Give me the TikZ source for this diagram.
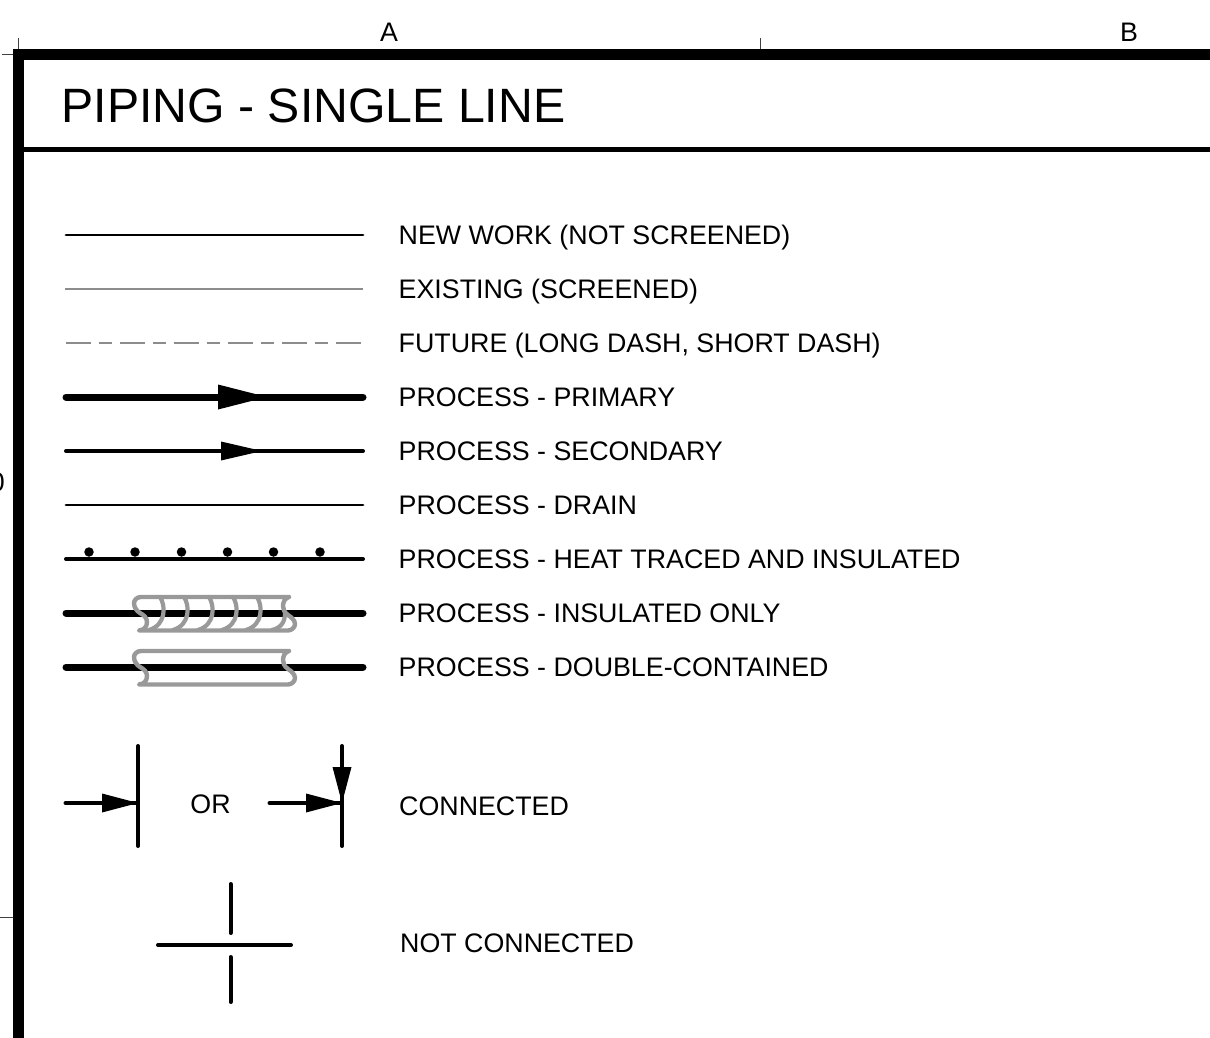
\documentclass[tikz,border=0pt]{standalone}
\usepackage{fontspec}
\setmainfont{Liberation Sans}
\newcommand{\sleeve}[1]{%
  \draw[wrap,yshift=#1] (289,597) -- (141,597) .. controls (137,597) and (134,600) .. (134,603)
  .. controls (134,608) and (137,611) .. (140,613) .. controls (144,615) and (147,618) .. (147,622)
  .. controls (147,627) and (144,630) .. (139,630.5) -- (288,630.5)
  .. controls (292,630.5) and (295,627) .. (295,624) .. controls (295,620) and (291,617) .. (288,615)
  .. controls (284,612) and (283,609) .. (283,606) .. controls (283,602) and (285,598) .. (289,597);}
\tikzset{
  lbl/.style={anchor=base west,inner sep=0pt,font=\fontsize{26.8}{30}\selectfont},
  ctr/.style={anchor=base,inner sep=0pt,font=\fontsize{26.8}{30}\selectfont},
  framebar/.style={line width=11pt,line cap=butt},
  ticks/.style={line width=0.8pt,draw=black!75},
  newline/.style={line width=2.7pt,line cap=round},
  oldline/.style={line width=1.8pt,draw=black!45},
  futline/.style={line width=1.8pt,draw=black!45,dash pattern=on 25.5pt off 7.7pt on 13pt off 7.8pt},
  primary/.style={line width=7pt,line cap=round},
  secondary/.style={line width=4pt,line cap=round},
  drain/.style={line width=2.7pt,line cap=round},
  wrap/.style={line width=4.4pt,draw=black!40,line cap=round,line join=round},
  hatch/.style={line width=4.2pt,draw=black!40,line cap=round},
  head/.style={fill=black,draw=none},
  dotm/.style={circle,fill=black,inner sep=0pt,minimum size=9.5pt},
}
\begin{document}
\begin{tikzpicture}[x=1pt,y=-1pt]
\useasboundingbox (0,0) rectangle (1210,1038);
% frame
\draw[framebar] (18,1038) -- (18,54.5) -- (1210,54.5);
\draw[line width=5pt] (23,149.5) -- (1210,149.5);
\draw[ticks] (18,38) -- (18,49);
\draw[ticks] (2,54) -- (13,54);
\draw[ticks] (760,38) -- (760,49);
\draw[ticks] (0,917) -- (13,917);
\node[ctr] (zoneA) at (389,41.5) {A};
\node[ctr] (zoneB) at (1129,41.5) {B};
\node[anchor=base east,inner sep=0pt,font=\fontsize{26.8}{30}\selectfont] (zone0) at (5,491.5) {0};
\node[anchor=base west,inner sep=0pt,font=\fontsize{48.2}{54}\selectfont] (title) at (61.5,123) {PIPING - SINGLE LINE};
% labels
\node[lbl] (t1) at (398.5,244) {NEW WORK (NOT SCREENED)};
\node[lbl] (t2) at (398.5,298) {EXISTING (SCREENED)};
\node[lbl] (t3) at (398.5,352) {FUTURE (LONG DASH, SHORT DASH)};
\node[lbl] (t4) at (398.5,406) {PROCESS - PRIMARY};
\node[lbl] (t5) at (398.5,460) {PROCESS - SECONDARY};
\node[lbl] (t6) at (398.5,514) {PROCESS - DRAIN};
\node[lbl] (t7) at (398.5,568) {PROCESS - HEAT TRACED AND INSULATED};
\node[lbl] (t8) at (398.5,622) {PROCESS - INSULATED ONLY};
\node[lbl] (t9) at (398.5,676) {PROCESS - DOUBLE-CONTAINED};
\node[lbl] (t10) at (399,815) {CONNECTED};
\node[lbl] (t11) at (400,952) {NOT CONNECTED};
\node[ctr] (or) at (210.5,813) {OR};
% simple lines
\draw[newline] (66,235) coordinate (a1) -- (363,235) coordinate (b1);
\draw[oldline] (65,289) coordinate (a2) -- (363,289) coordinate (b2);
\draw[futline] (65.5,343) coordinate (a3) -- (363,343) coordinate (b3);
% primary
\draw[primary] (66,397) coordinate (a4) -- (363,397) coordinate (b4);
\fill[head] (218,384.5) -- (267,397) -- (218,409.5) -- cycle;
% secondary
\draw[secondary] (66,451) coordinate (a5) -- (363,451) coordinate (b5);
\fill[head] (221,441.5) -- (262,451) -- (221,460.5) -- cycle;
% drain
\draw[drain] (66,505) coordinate (a6) -- (363,505) coordinate (b6);
% heat traced
\draw[secondary] (66,559) coordinate (a7) -- (363,559) coordinate (b7);
\foreach \x in {89,135,181.5,227.5,273.5,320} \node[dotm] at (\x,552) {};
% insulated
\draw[primary] (66,613) coordinate (a8) -- (363,613) coordinate (b8);
\foreach \x in {160,184,209,233,257}
  \draw[hatch] (\x,597) .. controls (\x+6,606) and (\x+6,625) .. (\x-11,630);
\draw[hatch] (285,613) .. controls (285,622) and (281,628) .. (272,630);
\sleeve{0pt}
% double contained
\draw[primary] (66,667) coordinate (a9) -- (363,667) coordinate (b9);
\sleeve{-54pt}
% connected (left)
\draw[secondary] (138,746) coordinate (c1) -- (138,846) coordinate (c2);
\draw[secondary] (65.5,803) coordinate (c3) -- (138,803) coordinate (c4);
\fill[head] (102,793.5) -- (138,803) -- (102,812.5) -- cycle;
% connected (right)
\draw[secondary] (342,746) coordinate (d1) -- (342,846) coordinate (d2);
\draw[secondary] (269.5,803) coordinate (d3) -- (342,803) coordinate (d4);
\fill[head] (306,793.5) -- (342,803) -- (306,812.5) -- cycle;
\fill[head] (332.5,767) -- (342,803) -- (351.5,767) -- cycle;
% not connected
\draw[secondary] (158,945) coordinate (e1) -- (291,945) coordinate (e2);
\draw[secondary] (230.5,884) coordinate (e3) -- (230.5,933) coordinate (e4);
\draw[secondary] (230.5,957) coordinate (e5) -- (230.5,1002) coordinate (e6);
\end{tikzpicture}
\end{document}
